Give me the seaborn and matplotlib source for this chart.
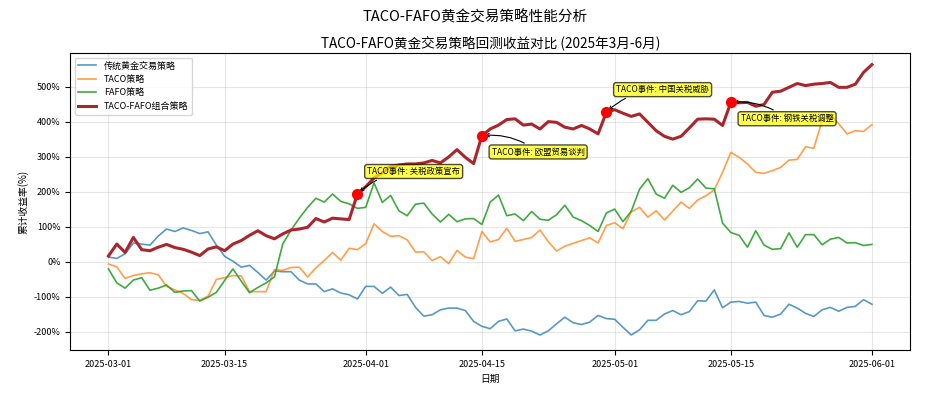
import matplotlib
matplotlib.use("Agg")

import pandas as pd
import matplotlib.pyplot as plt
import matplotlib.dates as mdates
from matplotlib.ticker import FuncFormatter, MultipleLocator
import seaborn as sns

# daily dates 2025-03-01 .. 2025-06-01
start_date = "2025-03-01"
end_date = "2025-06-01"

traditional = [14, 10, 23, 54, 51, 48, 74, 94, 87, 97, 90, 81, 86, 48, 16, 2, -15, -10, -30, -52,
               -26, -28, -28, -52, -63, -63, -85, -77, -89, -94, -106, -70, -70, -90, -72, -96, -93, -130, -155, -151,
               -137, -132, -132, -139, -170, -184, -191, -170, -163, -197, -192, -198, -209, -197, -177, -158, -174, -179, -172, -153,
               -162, -164, -187, -209, -194, -167, -167, -149, -139, -151, -142, -111, -112, -80, -131, -115, -113, -118, -115, -153,
               -158, -149, -121, -132, -147, -156, -137, -130, -141, -130, -127, -108, -121]

taco = [-6, -14, -47, -39, -34, -31, -37, -70, -80, -90, -108, -110, -98, -50, -45, -39, -40, -85, -85, -85,
        -22, -24, -16, -15, -43, -17, 4, 27, 5, 39, 35, 52, 109, 87, 73, 75, 63, 28, 29, 4,
        15, -5, 33, 14, 9, 87, 57, 64, 96, 59, 64, 70, 91, 58, 31, 45, 53, 61, 69, 54,
        104, 112, 95, 143, 156, 128, 146, 120, 145, 171, 153, 177, 189, 206, 256, 313, 299, 280, 256, 253,
        261, 270, 291, 293, 329, 325, 404, 420, 395, 366, 375, 373, 392]

fafo = [-20, -60, -75, -52, -45, -81, -75, -66, -87, -83, -82, -112, -101, -87, -53, -20, -55, -88, -73, -60,
        -43, 51, 91, 125, 156, 182, 171, 194, 173, 166, 153, 156, 226, 170, 190, 146, 132, 165, 168, 137,
        114, 136, 115, 123, 124, 107, 171, 191, 132, 137, 118, 144, 122, 119, 135, 162, 128, 118, 104, 87,
        140, 151, 115, 145, 208, 238, 194, 182, 219, 199, 212, 237, 211, 209, 111, 84, 76, 42, 89, 48,
        36, 38, 83, 42, 78, 78, 49, 65, 70, 54, 55, 47, 50]

combined = [17, 51, 27, 70, 35, 32, 42, 50, 41, 36, 28, 18, 37, 43, 32, 51, 61, 76, 89, 75,
            66, 80, 91, 94, 99, 124, 114, 125, 123, 121, 194, 215, 240, 255, 273, 277, 280, 280, 283, 290,
            283, 300, 321, 299, 281, 361, 380, 391, 407, 409, 391, 394, 380, 401, 399, 385, 380, 390, 380, 366,
            428, 435, 425, 416, 423, 399, 375, 359, 351, 359, 383, 408, 409, 408, 390, 456, 455, 456, 445, 450,
            485, 488, 499, 510, 504, 508, 510, 513, 499, 499, 508, 542, 564]

event_dates = ["2025-03-31", "2025-04-15", "2025-04-30", "2025-05-15"]
event_texts = ["TACO事件: 关税政策宣布", "TACO事件: 欧盟贸易谈判",
               "TACO事件: 中国关税威胁", "TACO事件: 钢铁关税调整"]


def main():
    dates = pd.date_range(start_date, end_date, freq="D")
    df = pd.DataFrame({
        "date": dates,
        "traditional": traditional,
        "taco": taco,
        "fafo": fafo,
        "combined": combined,
    })

    plt.rcParams["axes.unicode_minus"] = False
    plt.rcParams["font.family"] = ["Noto Sans CJK SC", "DejaVu Sans"]

    fig, ax = plt.subplots(figsize=(9.5, 3.96), dpi=100)
    fig.subplots_adjust(left=0.074, right=0.958, top=0.866, bottom=0.116)

    sns.lineplot(data=df, x="date", y="traditional", ax=ax, color="#1f77b4",
                 alpha=0.75, linewidth=1.2, label="传统黄金交易策略")
    sns.lineplot(data=df, x="date", y="taco", ax=ax, color="#ff7f0e",
                 alpha=0.75, linewidth=1.2, label="TACO策略")
    sns.lineplot(data=df, x="date", y="fafo", ax=ax, color="#2ca02c",
                 alpha=0.9, linewidth=1.2, label="FAFO策略")
    sns.lineplot(data=df, x="date", y="combined", ax=ax, color="#a8262c",
                 linewidth=2.2, label="TACO-FAFO组合策略")

    # event markers taken from the combined series
    ev = df.set_index("date").loc[pd.to_datetime(event_dates), "combined"]
    ax.scatter(ev.index, ev.values, color="red", s=50, zorder=5)

    for i, (d, v, txt) in enumerate(zip(ev.index, ev.values, event_texts)):
        dy = 13 if i % 2 == 0 else -15
        ax.annotate(txt, xy=(d, v), xytext=(7, dy), textcoords="offset points",
                    fontsize=6, va="bottom",
                    bbox=dict(boxstyle="round,pad=0.3", fc="yellow", alpha=0.7),
                    arrowprops=dict(arrowstyle="->", connectionstyle="arc3,rad=0.2",
                                    color="black", lw=0.8))

    fig.suptitle("TACO-FAFO黄金交易策略性能分析", fontsize=10.5, y=0.975)
    ax.set_title("TACO-FAFO黄金交易策略回测收益对比 (2025年3月-6月)", fontsize=9.8, pad=4)
    ax.set_xlabel("日期", fontsize=7)
    ax.set_ylabel("累计收益率(%)", fontsize=7)

    ax.set_ylim(-252, 597)
    ax.xaxis.set_major_locator(mdates.AutoDateLocator())
    ax.xaxis.set_major_formatter(mdates.DateFormatter("%Y-%m-%d"))
    ax.yaxis.set_major_locator(MultipleLocator(100))
    ax.yaxis.set_major_formatter(FuncFormatter(lambda y, _: f"{y:.0f}%"))
    ax.tick_params(labelsize=6.5)
    ax.grid(True, alpha=0.3)

    ax.legend(loc="upper left", fontsize=6.5)

    plt.savefig("out.png", dpi=100)
    plt.close()


if __name__ == "__main__":
    main()
